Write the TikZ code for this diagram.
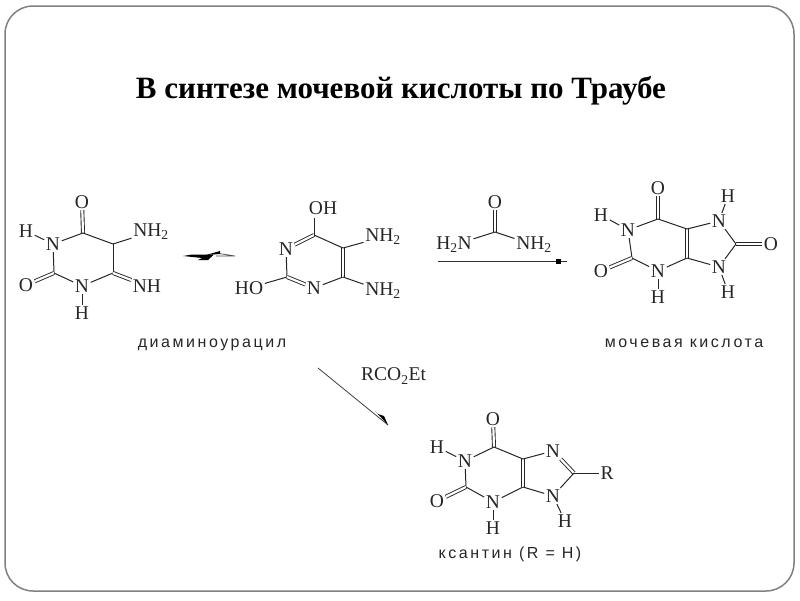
\documentclass[tikz,border=0pt]{standalone}
\usepackage{fontspec}
\setmainfont{Liberation Serif}
\newfontfamily\labfont[LetterSpace=16]{Liberation Sans}
\begin{document}
\begin{tikzpicture}[x=1pt,y=-1pt,
  atom/.style={font=\fontsize{19.5}{20}\selectfont,inner sep=1.5pt,text=black!85},
  bond/.style={draw=black!85,line width=1pt},
  dbl/.style={draw=black!85,double=white,double distance=2.2pt,line width=.9pt},
  caption/.style={font=\labfont\fontsize{16}{17}\selectfont,text=black!85,inner sep=0pt,anchor=base},
  frame/.style={draw=black!50,line width=1.5pt,rounded corners=28pt}]
\useasboundingbox (0,0) rectangle (800,600);
\coordinate (f1) at (5,6);
\coordinate (f2) at (794,591);
\draw[frame] (f1) rectangle (f2);
\node[font=\bfseries\fontsize{31}{31}\selectfont,inner sep=0pt] (title) at (401,91) {В синтезе мочевой кислоты по Траубе};

% diaminouracil
\node[atom] (aO4) at (82,202) {O};
\coordinate (aC4) at (83,233);
\node[atom] (aN3) at (53,244) {N};
\node[atom] (aH3) at (26,231) {H};
\coordinate (aC2) at (54,273);
\node[atom] (aO2) at (26,285) {O};
\node[atom] (aN1) at (82,286) {N};
\node[atom] (aH1) at (82,313) {H};
\coordinate (aC6) at (113,273);
\coordinate (aC5) at (113,244);
\node[atom] (aNH2) at (151,232) {NH\textsubscript{2}};
\node[atom] (aNH) at (147,286) {NH};
\draw[dbl] (aC4) -- (aO4);
\draw[bond] (aC4) -- (aN3);
\draw[bond] (aN3) -- (aH3);
\draw[bond] (aN3) -- (aC2);
\draw[dbl] (aC2) -- (aO2);
\draw[bond] (aC2) -- (aN1);
\draw[bond] (aN1) -- (aH1);
\draw[bond] (aN1) -- (aC6);
\draw[bond] (aC6) -- (aC5);
\draw[bond] (aC5) -- (aC4);
\draw[bond] (aC5) -- (aNH2);
\draw[dbl] (aC6) -- (aNH);

% equilibrium arrows
\coordinate (e1) at (183,256);
\coordinate (e2) at (216,256);
\coordinate (e3) at (235,256);
\coordinate (e4) at (216,253);
\fill[black] (e1) -- (192,254.5) -- (214,254.5) -- (208,260) -- (198,260) -- (202,258) -- cycle;
\draw[black!70,line width=.7pt] (e2) -- (e3) (e4) -- (e3);
\fill[black] (206,255) -- (220,251) -- (220,254) -- cycle;

% pyrimidine tautomer
\node[atom] (bOH) at (323,208) {OH};
\coordinate (bC4) at (314,235);
\node[atom] (bN3) at (286,249) {N};
\coordinate (bC2) at (287,277);
\node[atom] (bHO) at (249,288) {HO};
\node[atom] (bN1) at (314,288) {N};
\coordinate (bC6) at (343,277);
\coordinate (bC5) at (343,248);
\node[atom] (bNa) at (383,237) {NH\textsubscript{2}};
\node[atom] (bNb) at (383,291) {NH\textsubscript{2}};
\coordinate (bOb) at (314,218);
\draw[bond] (bC4) -- (bOb);
\draw[dbl] (bC4) -- (bN3);
\draw[bond] (bN3) -- (bC2);
\draw[bond] (bC2) -- (bHO);
\draw[dbl] (bC2) -- (bN1);
\draw[bond] (bN1) -- (bC6);
\draw[dbl] (bC6) -- (bC5);
\draw[bond] (bC5) -- (bC4);
\draw[bond] (bC5) -- (bNa);
\draw[bond] (bC6) -- (bNb);

% urea
\node[atom] (uO) at (495,202) {O};
\coordinate (uC) at (495,232);
\node[atom] (uL) at (454,245) {H\textsubscript{2}N};
\node[atom] (uR) at (534,245) {NH\textsubscript{2}};
\draw[dbl] (uC) -- (uO);
\draw[bond] (uC) -- (uL);
\draw[bond] (uC) -- (uR);
\coordinate (r1) at (438,261);
\coordinate (r2) at (567,261);
\draw[black!80,line width=.9pt] (r1) -- (r2);
\node[fill=black,inner sep=0pt,minimum size=5pt] (rs) at (558,261.5) {};

% uric acid
\node[atom] (cO6) at (658,188) {O};
\coordinate (cC6) at (658,219);
\node[atom] (cN1) at (628,230) {N};
\node[atom] (cH1) at (601,215) {H};
\coordinate (cC2) at (632,258);
\node[atom] (cO2) at (601,271) {O};
\node[atom] (cN3) at (658,271) {N};
\node[atom] (cH3) at (658,297) {H};
\coordinate (cC4) at (687,258);
\coordinate (cC5) at (687,229);
\node[atom] (cN7) at (719,221) {N};
\node[atom] (cH7) at (728,196) {H};
\coordinate (cC8) at (736,244);
\node[atom] (cO8) at (771,244) {O};
\node[atom] (cN9) at (719,267) {N};
\node[atom] (cH9) at (728,292) {H};
\draw[dbl] (cC6) -- (cO6);
\draw[bond] (cC6) -- (cN1);
\draw[bond] (cN1) -- (cH1);
\draw[bond] (cN1) -- (cC2);
\draw[dbl] (cC2) -- (cO2);
\draw[bond] (cC2) -- (cN3);
\draw[bond] (cN3) -- (cH3);
\draw[bond] (cN3) -- (cC4);
\draw[dbl] (cC4) -- (cC5);
\draw[bond] (cC5) -- (cC6);
\draw[bond] (cC5) -- (cN7);
\draw[bond] (cN7) -- (cH7);
\draw[bond] (cN7) -- (cC8);
\draw[dbl] (cC8) -- (cO8);
\draw[bond] (cC8) -- (cN9);
\draw[bond] (cN9) -- (cH9);
\draw[bond] (cN9) -- (cC4);

% xanthine
\node[atom] (dO6) at (493,419) {O};
\coordinate (dC6) at (494,447);
\node[atom] (dN1) at (465,461) {N};
\node[atom] (dH1) at (437,447) {H};
\coordinate (dC2) at (466,487);
\node[atom] (dO2) at (437,501) {O};
\node[atom] (dN3) at (493,502) {N};
\node[atom] (dH3) at (493,528) {H};
\coordinate (dC4) at (523,487);
\coordinate (dC5) at (523,459);
\node[atom] (dN7) at (553,451) {N};
\coordinate (dC8) at (574,473);
\node[atom] (dR) at (607,473) {R};
\node[atom] (dN9) at (553,496) {N};
\node[atom] (dH9) at (565,521) {H};
\draw[dbl] (dC6) -- (dO6);
\draw[bond] (dC6) -- (dN1);
\draw[bond] (dN1) -- (dH1);
\draw[bond] (dN1) -- (dC2);
\draw[dbl] (dC2) -- (dO2);
\draw[bond] (dC2) -- (dN3);
\draw[bond] (dN3) -- (dH3);
\draw[bond] (dN3) -- (dC4);
\draw[dbl] (dC4) -- (dC5);
\draw[bond] (dC5) -- (dC6);
\draw[bond] (dC5) -- (dN7);
\draw[dbl] (dN7) -- (dC8);
\draw[bond] (dC8) -- (dR);
\draw[bond] (dC8) -- (dN9);
\draw[bond] (dN9) -- (dH9);
\draw[bond] (dN9) -- (dC4);

% lower arrow
\coordinate (s1) at (318,368);
\coordinate (s2) at (388,425);
\draw[black!75,line width=.8pt] (s1) -- (s2);
\fill[black] (s2) -- (375,411) -- (378,414) -- (384,416) -- cycle;
\node[atom,anchor=west,inner sep=0pt] (rgt) at (361,376) {RCO\textsubscript{2}Et};

% captions
\node[caption] (l1) at (212,347) {диаминоурацил};
\node[caption] (l2) at (684,347) {мочевая кислота};
\node[caption] (l3) at (510,558) {ксантин (R = H)};
\end{tikzpicture}
\end{document}
